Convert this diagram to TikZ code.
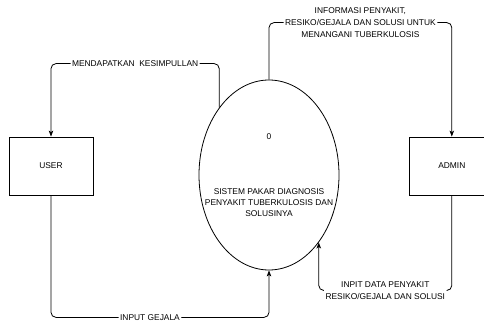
\documentclass[tikz,border=0pt]{standalone}
\usepackage{fontspec}
\setmainfont{Liberation Sans}
\usetikzlibrary{positioning,calc,arrows.meta,shapes.geometric}

\begin{document}
\begin{tikzpicture}[x=1pt, y=-1pt, line width=0.8pt, font=\fontsize{8.4}{11}\selectfont, flow/.style={-{Stealth[length=6pt,width=4.5pt,inset=1.5pt]}, rounded corners=5pt}, entity/.style={rectangle, draw, minimum width=84pt, minimum height=58pt, inner sep=0pt}, proc/.style={ellipse, draw, minimum width=140pt, minimum height=190pt, inner sep=0pt}, lbl/.style={fill=white, inner sep=1.5pt, align=center, font=\fontsize{8.4}{12}\selectfont}]

\useasboundingbox (0,0) rectangle (484,323);

\node[proc] (sys) at (269,175) {};
\node[align=center] (systxt) at (sys.center) {0\\[44pt]SISTEM PAKAR DIAGNOSIS\\PENYAKIT TUBERKULOSIS DAN\\SOLUSINYA};
\node[entity] (user) at (51,166) {USER};
\node[entity] (admin) [right=316pt of user] {ADMIN};

\draw[flow] (sys.north west) |- node[lbl, pos=0.75] {MENDAPATKAN\ \ KESIMPULLAN} ($(user.north)+(0,-73)$) -- (user.north);
\draw[flow] (sys.north) |- node[lbl, pos=0.75] {INFORMASI PENYAKIT,\\RESIKO/GEJALA DAN SOLUSI UNTUK\\MENANGANI TUBERKULOSIS} ($(admin.north)+(0,-114)$) -- (admin.north);
\draw[flow] (user.south) |- node[lbl, pos=0.727] {INPUT GEJALA} ($(sys.south)+(0,47)$) -- (sys.south);
\draw[flow] (admin.south) |- node[lbl, pos=0.75] {INPIT DATA PENYAKIT\\RESIKO/GEJALA DAN SOLUSI} ($(sys.south east)+(0,48)$) -- (sys.south east);
\end{tikzpicture}
\end{document}
